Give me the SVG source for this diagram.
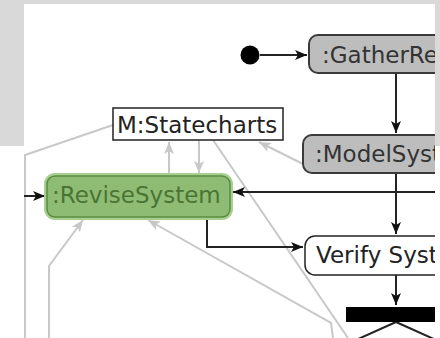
<svg xmlns="http://www.w3.org/2000/svg" width="440" height="338" viewBox="0 0 440 338">
<style>
  .lbl{font-family:"DejaVu Sans",Verdana,sans-serif;font-size:23px;}
  .gray{fill:#bdbdbd;stroke:#3a3a3a;stroke-width:2;}
  .white{fill:#fff;stroke:#222;stroke-width:1.5;}
  .flow{fill:none;stroke:#222;stroke-width:2;}
  .trace{fill:none;stroke:#c8c8c8;stroke-width:2;}
</style>
<defs>
  <marker id="ah" markerUnits="userSpaceOnUse" markerWidth="14" markerHeight="10" refX="12" refY="5" orient="auto">
    <path d="M0,0 L12,5 L0,10 L3,5 z" fill="#111"/>
  </marker>
  <marker id="gh" markerUnits="userSpaceOnUse" markerWidth="14" markerHeight="10" refX="12" refY="5" orient="auto">
    <path d="M0,0 L12,5 L0,10 L3,5 z" fill="#c8c8c8"/>
  </marker>
  <clipPath id="clip"><rect x="0" y="0" width="435" height="338"/></clipPath>
</defs>
<rect x="0" y="0" width="440" height="338" fill="#fff"/>
<path d="M0,0 H440 V146 H435 V4 H24 V146 H0 Z" fill="#d9d9d9"/>
<g clip-path="url(#clip)">
  <g id="connectors">
    <path class="trace" d="M113,125 L25,155 L25,338"/>
    <path class="trace" d="M169,175 L169,142" marker-end="url(#gh)"/>
    <path class="trace" d="M199,140 L199,173" marker-end="url(#gh)"/>
    <path class="trace" d="M303,164 L259,142" marker-end="url(#gh)"/>
    <path class="trace" d="M213,140 L348,338"/>
    <path class="trace" d="M333,338 L331,323 L148,220" marker-end="url(#gh)"/>
    <path class="trace" d="M49,338 L49,266 L83,220" marker-end="url(#gh)"/>
    <path class="flow" d="M260,55 L307,55" marker-end="url(#ah)"/>
    <path class="flow" d="M396,73 L396,133" marker-end="url(#ah)"/>
    <path class="flow" d="M440,192 L233,192" marker-end="url(#ah)"/>
    <path class="flow" d="M396,173 L396,234" marker-end="url(#ah)"/>
    <path class="flow" d="M207,218 L207,247 L303,247" marker-end="url(#ah)"/>
    <path class="flow" d="M24,196 L45,196" marker-end="url(#ah)"/>
    <path class="flow" d="M396,275 L396,305" marker-end="url(#ah)"/>
    <path class="flow" d="M396,322 L356,340 M396,322 L436,340"/>
  </g>
  <g id="initial"><circle cx="250" cy="55" r="9.5" fill="#000"/></g>
  <g id="gather">
    <rect class="gray" x="309" y="35" width="160" height="38" rx="9"/>
    <text class="lbl" x="322" y="63" fill="#333">:GatherRe</text>
  </g>
  <g id="model">
    <rect class="gray" x="303" y="135" width="160" height="38" rx="9"/>
    <text class="lbl" x="315" y="162" fill="#333">:ModelSyst</text>
  </g>
  <g id="statecharts">
    <rect class="white" x="113" y="108" width="170" height="32"/>
    <text class="lbl" x="117" y="133" fill="#222">M:Statecharts</text>
  </g>
  <g id="revise">
    <rect x="46" y="175" width="185" height="43" rx="9" fill="none" stroke="#a8cf92" stroke-width="4"/>
    <rect x="47" y="176" width="183" height="41" rx="8" fill="#8fbc74" stroke="#5b8c3e" stroke-width="1.5"/>
    <text class="lbl" x="52" y="203" fill="#4a7433">:ReviseSystem</text>
  </g>
  <g id="verify">
    <rect class="white" x="305" y="236" width="170" height="39" rx="10"/>
    <text class="lbl" x="316" y="263" fill="#222">Verify Syst</text>
  </g>
  <g id="fork"><rect x="346" y="307" width="100" height="15" fill="#000"/></g>
</g>
</svg>
